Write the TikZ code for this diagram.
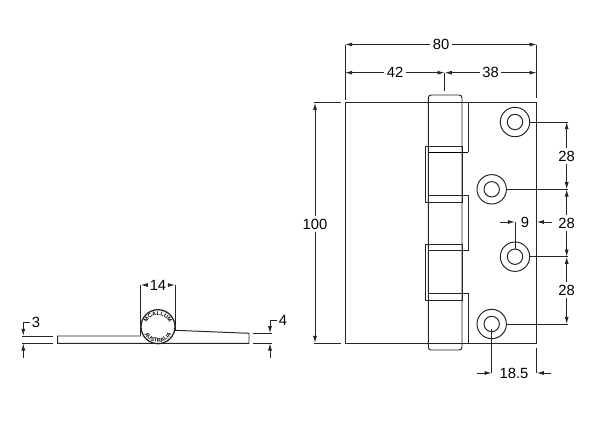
\documentclass[tikz,border=0pt]{standalone}
\usepackage{fontspec}
\setmainfont{Liberation Sans}
\usetikzlibrary{arrows.meta,decorations.text}

\tikzset{
  part/.style={line width=0.7pt, black!85},
  dim/.style={line width=0.6pt, black!85, -{Latex[length=1.8mm,width=1mm]}},
  ext/.style={line width=0.6pt, black!85},
  num/.style={font=\fontsize{10.5}{12}\selectfont, inner sep=1.5pt},
}

\begin{document}
\begin{tikzpicture}[x=0.025cm,y=0.025cm]
  \useasboundingbox (0,0) rectangle (600,424);

  % Seitenansicht
  \begin{scope}[part]
    \draw (140.7,88) -- (57.7,88) -- (57.7,80.7) -- (249,80.7) -- (249,90.7) -- (175,93.7);
    \draw[line width=0.9pt] (158,97.3) coordinate (pinEnd) circle (17);
    \path[decorate, decoration={text along path, text align=center,
        text={|\fontsize{4}{4}\selectfont\bfseries|MCALLUM}}]
      (pinEnd) ++(190:11.5) arc[start angle=190, end angle=-10, radius=11.5];
    \path[decorate, decoration={text along path, text align=center,
        text={|\fontsize{4}{4}\selectfont\bfseries|AUSTRALIA}}]
      (pinEnd) ++(170:15.5) arc[start angle=170, end angle=370, radius=15.5];
  \end{scope}

  \node[num] (dimFourteen) at (158,139) {14};
  \coordinate (pinL) at (140.7,139);
  \coordinate (pinR) at (175,139);
  \draw[ext] (pinL) -- (140.7,88);
  \draw[ext] (pinR) -- (175,93.7);
  \draw[dim] (dimFourteen) -- (pinL);
  \draw[dim] (dimFourteen) -- (pinR);

  % 3
  \node[num] (dimThree) at (36,102) {3};
  \coordinate (threeTop) at (23.3,88);
  \coordinate (threeBot) at (23.3,80.7);
  \draw[ext] (22,88) -- (53,88);
  \draw[ext] (22,80.7) -- (53,80.7);
  \draw[dim] (dimThree) -| (threeTop);
  \draw[dim] (23.3,66) -- (threeBot);

  % 4
  \node[num] (dimFour) at (283,104) {4};
  \coordinate (fourTop) at (270,90.7);
  \coordinate (fourBot) at (270,80.7);
  \draw[ext] (253,90.7) -- (272,90.7);
  \draw[ext] (253,80.7) -- (272,80.7);
  \draw[dim] (dimFour) -| (fourTop);
  \draw[dim] (270,66) -- (fourBot);

  % Platte
  \draw[part] (345,81) rectangle (536.7,321.3);
  \draw[part, rounded corners=2pt] (428.3,321.3) -- (428.3,329) -- (462,329) -- (462,74) -- (428.3,74) -- cycle;

  % Scharnier
  \begin{scope}[part]
    \draw (462,321.3) -- (468.3,321.3) -- (468.3,271.7);
    \draw (425,278) rectangle (462,222);
    \draw[line width=1pt, black] (428.3,271.7) -- (468.3,271.7);
    \draw (428.3,228.7) -- (468.3,228.7) -- (468.3,173.7) -- (428.3,173.7);
    \draw (425,179.7) rectangle (462,124);
    \draw (428.3,130.3) -- (468.3,130.3) -- (468.3,81);
  \end{scope}

  % Bohrungen
  \foreach \name/\px/\py in {holeA/515/302, holeB/491.7/234.7, holeC/515/167.3, holeD/491.7/100} {
    \coordinate (\name) at (\px,\py);
    \draw[part] (\name) circle (14.7);
    \draw[part] (\name) circle (7.7);
  }

  % 80, 42, 38
  \node[num] (dimEighty) at (441,379.5) {80};
  \node[num] (dimFortyTwo) at (395,351.3) {42};
  \node[num] (dimThirtyEight) at (490.7,351.3) {38};
  \coordinate (platL) at (345,379.5);
  \coordinate (platR) at (536.7,379.5);
  \coordinate (pinMid) at (444.7,351.3);
  \draw[ext] (platL) -- (345,324);
  \draw[ext] (platR) -- (536.7,326);
  \draw[ext] (pinMid) -- (444.7,333);
  \draw[dim] (dimEighty) -- (platL);
  \draw[dim] (dimEighty) -- (platR);
  \draw[dim] (dimFortyTwo) -- (345,351.3);
  \draw[dim] (dimFortyTwo) -- (pinMid);
  \draw[dim] (dimThirtyEight) -- (pinMid);
  \draw[dim] (dimThirtyEight) -- (536.7,351.3);

  % 100
  \node[num] (dimHundred) at (315,200) {100};
  \draw[ext] (314,321.3) -- (341,321.3);
  \draw[ext] (314,81) -- (341,81);
  \draw[dim] (dimHundred) -- (315,321.3);
  \draw[dim] (dimHundred) -- (315,81);

  % 28
  \node[num] (pitchA) at (566.7,268) {28};
  \node[num] (pitchB) at (566.7,201) {28};
  \node[num] (pitchC) at (566.7,134) {28};
  \draw[ext] (holeA) ++(14.7,0) -- (567.5,302);
  \draw[ext] (holeB) ++(14.7,0) -- (567.5,234.7);
  \draw[ext] (holeC) ++(14.7,0) -- (567.5,167.3);
  \draw[ext] (holeD) ++(14.7,0) -- (567.5,100);
  \draw[dim] (pitchA) -- (566.7,302);
  \draw[dim] (pitchA) -- (566.7,234.7);
  \draw[dim] (pitchB) -- (566.7,234.7);
  \draw[dim] (pitchB) -- (566.7,167.3);
  \draw[dim] (pitchC) -- (566.7,167.3);
  \draw[dim] (pitchC) -- (566.7,100);

  % 9
  \node[num] (dimNine) at (525,202) {9};
  \draw[ext] (515,202) -- (515,175);
  \draw[dim] (500,202) -- (515,202);
  \draw[dim] (552,202) -- (536.7,202);

  % 18.5
  \node[num] (dimOffset) at (514,51) {18.5};
  \draw[ext] (491.7,51) -- (491.7,95);
  \draw[ext] (536.7,51) -- (536.7,76);
  \draw[dim] (477,51) -- (491.7,51);
  \draw[dim] (551,51) -- (536.7,51);
\end{tikzpicture}
\end{document}
